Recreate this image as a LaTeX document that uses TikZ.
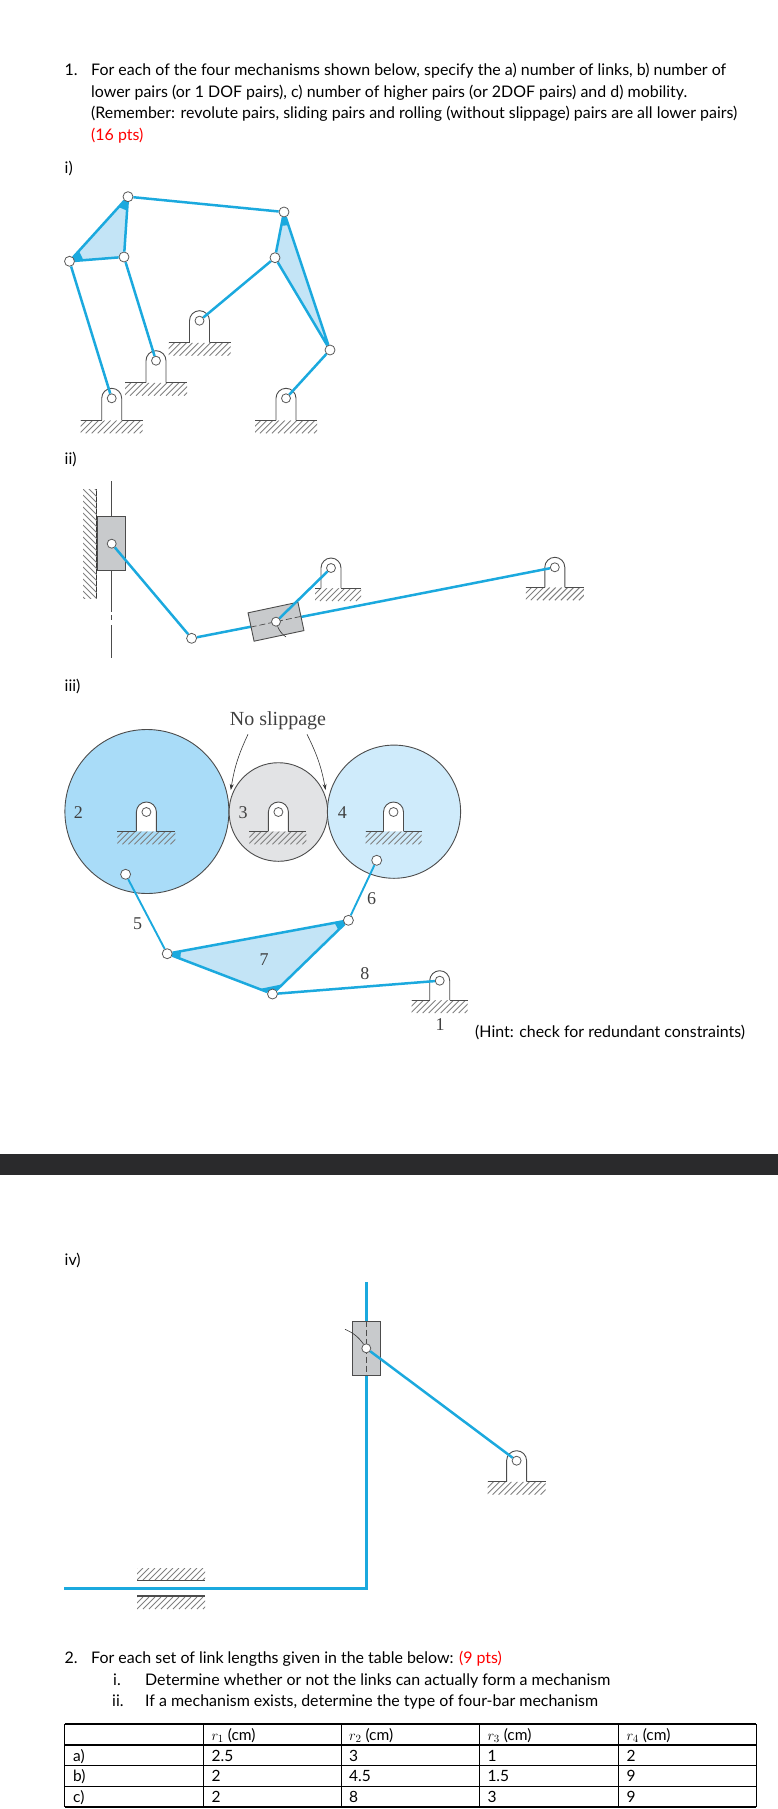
\documentclass[tikz,border=0pt]{standalone}
\usepackage{fontspec}
\setmainfont{Lato}
\newfontfamily\figfont{Liberation Serif}
\usetikzlibrary{calc,backgrounds,arrows.meta}

\definecolor{linkblue}{HTML}{1BA9DE}
\definecolor{wedgeblue}{HTML}{C3E4F6}
\definecolor{disktwo}{HTML}{A9DCF8}
\definecolor{diskthree}{HTML}{E2E3E5}
\definecolor{diskfour}{HTML}{CFEBFB}
\definecolor{blockgray}{HTML}{C8CACC}
\definecolor{bandgray}{HTML}{2A2A2C}

\tikzset{
	bodyline/.style = {anchor=base west, inner sep=0, font=\fontsize{15.95}{18}\selectfont},
	figlabel/.style = {inner sep=0, font=\figfont\fontsize{18}{20}\selectfont, text=black!75},
	link/.style = {linkblue, line width=2.5pt},
	thinlink/.style = {linkblue, line width=1.9pt},
	joint/.style = {circle, draw=black!65, fill=white, line width=.8pt, inner sep=0, minimum size=10pt},
	pinhole/.style = {circle, draw=black!65, fill=white, line width=.8pt, inner sep=0, minimum size=9pt},
	block/.style = {draw=black!70, fill=blockgray, line width=.9pt, inner sep=0},
	hatchline/.style = {black!50, line width=.9pt},
	longdash/.style = {black!70, line width=.7pt, dash pattern=on 6pt off 3pt},
	cell/.style = {anchor=base west, inner sep=0, font=\fontsize{15.5}{18}\selectfont}
}

% row of slanted ground lines
\newcommand{\hatchrow}[4]{
	\begin{scope}
		\clip (#1,#3) rectangle (#2,#3+#4);
		\pgfmathsetmacro{\hstart}{#1}
		\pgfmathsetmacro{\hnext}{#1+6}
		\pgfmathsetmacro{\hend}{#2+#4}
		\foreach \hx in {\hstart,\hnext,...,\hend}
			\draw[hatchline] (\hx,#3) -- (\hx-#4,#3+#4);
	\end{scope}
}

% name, x, y, left, right, depth
\newcommand{\pivot}[6]{
	\begin{scope}[shift = {(#2,#3)}]
		\hatchrow{-#4}{#5}{#6}{13}
		\draw[black!70, line width=.9pt, fill=white] (-10,#6) -- (-10,0) arc (180:360:10) -- (10,#6);
		\draw[black!70, line width=1pt] (-#4,#6) -- (-10,#6) (10,#6) -- (#5,#6);
		\node[pinhole] (#1) at (0,0) {};
	\end{scope}
}

% solid corner of a plate link
\newcommand{\gusset}[3]{
	\fill[linkblue] (#1.center) -- ($(#1)!14pt!(#2)$) -- ($(#1)!14pt!(#3)$) -- cycle;
}

\begin{document}
\begin{tikzpicture}[x=1pt,y=-1pt]
	\useasboundingbox (0,0) rectangle (778,1809);

	%question 1
	\node[bodyline] (qonenum) at (64.5,76) {1.};
	\node[bodyline] (qonea) at (91,76) {For each of the four mechanisms shown below, specify the a) number of links, b) number of};
	\node[bodyline] (qoneb) at (91,98) {lower pairs (or 1 DOF pairs), c) number of higher pairs (or 2DOF pairs) and d) mobility.};
	\node[bodyline] (qonec) at (91,119) {(Remember: revolute pairs, sliding pairs and rolling (without slippage) pairs are all lower pairs)};
	\node[bodyline, text=red] (qoned) at (91,141) {(16 pts)};

	%mechanism i
	\node[bodyline] (labeli) at (64.5,173) {i)};
	\pivot{gia}{111.7}{398.3}{31}{31}{22}
	\pivot{gib}{156}{360.7}{31}{31}{22}
	\pivot{gic}{199.5}{320.7}{31}{31}{22}
	\pivot{gid}{286}{398.3}{31}{31}{22}
	\node[joint] (ia) at (128,196.7) {};
	\node[joint] (ib) at (284,212) {};
	\node[joint] (ic) at (69.5,261.3) {};
	\node[joint] (id) at (124,257) {};
	\node[joint] (ie) at (275,257.7) {};
	\node[joint] (if) at (330,350) {};
	\begin{scope}[on background layer]
		\fill[wedgeblue] (ia.center) -- (ic.center) -- (id.center) -- cycle;
		\fill[wedgeblue] (ib.center) -- (ie.center) -- (if.center) -- cycle;
		\gusset{ic}{ia}{id}
		\gusset{ia}{ic}{id}
		\gusset{if}{ib}{ie}
		\gusset{ib}{ie}{if}
	\end{scope}
	\draw[link] (ia) -- (ib);
	\draw[link] (ia) -- (ic);
	\draw[link] (ia) -- (id);
	\draw[link] (ic) -- (id);
	\draw[link] (ib) -- (ie);
	\draw[link] (ib) -- (if);
	\draw[link] (ie) -- (if);
	\draw[link] (ic) -- (gia);
	\draw[link] (id) -- (gib);
	\draw[link] (ie) -- (gic);
	\draw[link] (if) -- (gid);

	%mechanism ii
	\node[bodyline] (labelii) at (64.5,464) {ii)};
	\draw[black!80, line width=1pt] (96.8,489.3) -- (96.8,598.3);
	\begin{scope}
		\clip (83,489.3) rectangle (96.8,598.3);
		\foreach \y in {477,483,...,597}
			\draw[hatchline] (83,\y) -- (96.8,\y+13.8);
	\end{scope}
	\draw[black!70, line width=.8pt] (111.7,481) -- (111.7,611.7) (111.7,615) -- (111.7,620) (111.7,625) -- (111.7,658);
	\pivot{giia}{331}{568}{16}{30}{20}
	\pivot{giib}{554.8}{567.3}{29}{29}{20}
	\node[joint] (iia) at (191.6,638.3) {};
	\draw[link] (iia) -- (giib);
	\node[block, minimum width=28pt, minimum height=54pt] (sliderii) at (111.2,543.5) {};
	\node[block, rotate=12, minimum width=51pt, minimum height=29pt] (rockerii) at (276,621.7) {};
	\draw[longdash] (rockerii.west) -- (rockerii.east);
	\node[pinhole] (iib) at (111.7,543.7) {};
	\node[pinhole] (iic) at (276,621.7) {};
	\coordinate (leaderii) at (286,637);
	\draw[black!80, line width=.6pt] (iic) to[bend right=15] (leaderii);
	\draw[link] (iib) -- (iia);
	\draw[link] (iic) -- (giia);

	%mechanism iii
	\node[bodyline] (labeliii) at (64.5,691.7) {iii)};
	\draw[black!70, line width=.9pt, fill=disktwo] (146.9,811.5) circle (82);
	\draw[black!70, line width=.9pt, fill=diskthree] (278.4,812) circle (49.3);
	\draw[black!70, line width=.9pt, fill=diskfour] (394,811.7) circle (66.6);
	\node[figlabel, font=\figfont\fontsize{20}{22}\selectfont] (noslip) at (278,721) {No slippage};
	\coordinate (slipa) at (248,734.3);
	\coordinate (slipb) at (307,734.3);
	\coordinate (contacta) at (230.8,790);
	\coordinate (contactb) at (325.6,790);
	\draw[black!80, line width=.6pt, -{Stealth[length=6pt,width=4pt]}] (slipa) to[bend right=8] (contacta);
	\draw[black!80, line width=.6pt, -{Stealth[length=6pt,width=4pt]}] (slipb) to[bend left=8] (contactb);
	\pivot{giiia}{146.4}{812}{29}{29}{19.3}
	\pivot{giiib}{278.4}{812}{29}{28}{19.3}
	\pivot{giiic}{393.5}{812}{28}{28}{19.3}
	\pivot{giiid}{439.7}{980.7}{28}{28}{19.3}
	\node[joint] (iiia) at (125.6,874.3) {};
	\node[joint] (iiib) at (167.2,953.7) {};
	\node[joint] (iiic) at (376.7,860.3) {};
	\node[joint] (iiid) at (348.4,920.3) {};
	\node[joint] (iiie) at (272.5,994) {};
	\begin{scope}[on background layer]
		\fill[wedgeblue] (iiib.center) -- (iiid.center) -- (iiie.center) -- cycle;
		\gusset{iiib}{iiid}{iiie}
		\gusset{iiid}{iiib}{iiie}
		\gusset{iiie}{iiib}{iiid}
	\end{scope}
	\draw[thinlink] (iiia) -- (iiib);
	\draw[thinlink] (iiic) -- (iiid);
	\draw[link] (iiib) -- (iiid);
	\draw[link] (iiid) -- (iiie);
	\draw[link] (iiib) -- (iiie);
	\draw[link] (iiie) -- (giiid);
	\node[figlabel] (numtwo) at (78.4,812.3) {2};
	\node[figlabel] (numthree) at (243.2,812.3) {3};
	\node[figlabel] (numfour) at (342.4,812.3) {4};
	\node[figlabel] (numfive) at (137.5,923.3) {5};
	\node[figlabel] (numsix) at (371.7,899) {6};
	\node[figlabel] (numseven) at (264,960) {7};
	\node[figlabel] (numeight) at (364.8,973.7) {8};
	\node[figlabel] (numone) at (440.2,1024.3) {1};
	\node[bodyline] (hint) at (475,1037.3) {(Hint: check for redundant constraints)};

	%page break band
	\fill[bandgray] (0,1154) rectangle (778,1175);

	%mechanism iv
	\node[bodyline] (labeliv) at (64.5,1265) {iv)};
	\coordinate (guidetop) at (366.3,1282);
	\coordinate (guidebend) at (366.3,1588.3);
	\coordinate (guideend) at (64,1588.3);
	\draw[link, line join=miter] (guidetop) -- (guidebend) -- (guideend);
	\node[block, minimum width=28.5pt, minimum height=54.3pt] (slideriv) at (366.3,1348.2) {};
	\draw[longdash] (slideriv.north) -- (slideriv.south);
	\node[pinhole] (iva) at (366.3,1348.3) {};
	\coordinate (leaderiv) at (345,1329.3);
	\draw[black!80, line width=.6pt] (iva) to[bend right=15] (leaderiv);
	\pivot{giva}{516.6}{1460.7}{29}{29}{21}
	\draw[link] (iva) -- (giva);
	\hatchrow{137}{205}{1568}{12}
	\draw[black!70, line width=1.3pt] (137,1580.7) -- (205,1580.7);
	\draw[black!70, line width=1.3pt] (137,1596) -- (205,1596);
	\hatchrow{137}{205}{1597}{12}

	%question 2
	\node[bodyline] (qtwonum) at (64.5,1663.7) {2.};
	\node[bodyline] (qtwoa) at (91,1663.7) {For each set of link lengths given in the table below: \textcolor{red}{(9 pts)}};
	\node[bodyline] (qtwob) at (113,1685) {i.};
	\node[bodyline] (qtwoc) at (145,1685) {Determine whether or not the links can actually form a mechanism};
	\node[bodyline] (qtwod) at (112,1706) {ii.};
	\node[bodyline] (qtwoe) at (145,1706) {If a mechanism exists, determine the type of four-bar mechanism};

	%table of link lengths
	\foreach \y in {1724,1745,1765.7,1786.3,1807}
		\draw[black, line width=1.2pt] (64.5,\y) -- (756.3,\y);
	\foreach \x in {64.5,203.5,341.4,479.4,618.4,756.3}
		\draw[black, line width=1.2pt] (\x,1724) -- (\x,1807);
	\foreach \x/\k/\a/\b/\c in {211.4/1/2.5/2/2,349/2/3/4.5/8,487.3/3/1/1.5/3,626.3/4/2/9/9} {
		\node[cell] (head\k) at (\x,1740) {$r_\k$ (cm)};
		\node[cell] (rowa\k) at (\x,1761) {\a};
		\node[cell] (rowb\k) at (\x,1781.5) {\b};
		\node[cell] (rowc\k) at (\x,1802) {\c};
	}
	\node[cell] (namea) at (73,1761) {a)};
	\node[cell] (nameb) at (73,1781.5) {b)};
	\node[cell] (namec) at (73,1802) {c)};
\end{tikzpicture}
\end{document}
